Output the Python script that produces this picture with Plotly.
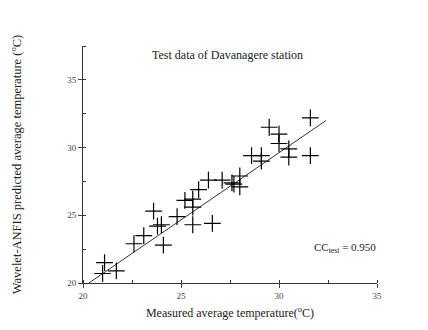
import plotly.graph_objects as go

measured = [21.0, 21.1, 21.7, 22.6, 23.1, 23.6, 23.8, 24.0, 24.1, 24.8, 25.2, 25.6, 25.6, 25.6,
            25.9, 26.4, 26.6, 27.1, 27.6, 27.7, 28.0, 28.0, 28.6, 29.1, 29.1, 29.5, 30.0, 30.0,
            30.5, 30.5, 31.6, 31.6]
predicted = [20.7, 21.5, 20.9, 22.9, 23.5, 25.3, 24.2, 24.3, 22.8, 24.9, 26.1, 26.2, 25.6, 24.3,
             26.9, 27.6, 24.4, 27.6, 27.4, 27.3, 27.1, 27.9, 29.4, 29.4, 29.0, 31.5, 31.0, 30.3,
             29.9, 29.3, 29.4, 32.2]
fit_x = [20.3, 32.4]
fit_y = [20.0, 32.0]
tick_vals = [20, 25, 30, 35]

font = "Liberation Serif, Times New Roman, serif"

fig = go.Figure()
fig.add_trace(go.Scatter(x=fit_x, y=fit_y, mode="lines",
                         line=dict(color="#333333", width=1), showlegend=False))
fig.add_trace(go.Scatter(x=measured, y=predicted, mode="markers",
                         marker=dict(symbol="cross-thin", size=12,
                                     line=dict(color="black", width=1.2)),
                         showlegend=False))

fig.update_layout(
    width=428, height=330,
    margin=dict(l=75, r=59, t=38, b=55),
    paper_bgcolor="white", plot_bgcolor="white",
    font=dict(family=font, color="#222222"),
    annotations=[
        dict(text="Test data of Davanagere station", x=0.49, y=0.962, xref="paper", yref="paper",
             xanchor="center", yanchor="middle",
             showarrow=False, font=dict(size=12, family=font, color="#222222")),
        dict(text="CC<sub>test</sub> = 0.950", x=31.7, y=22.6, xref="x", yref="y",
             xanchor="left", yanchor="middle", showarrow=False,
             font=dict(size=11, family=font, color="#222222")),
    ],
)
fig.update_xaxes(range=[20, 35], tickvals=tick_vals, ticks="outside", ticklen=4,
                 showline=True, linecolor="#333333", linewidth=1, showgrid=False, zeroline=False,
                 automargin=False,
                 tickfont=dict(size=9, family=font, color="#444444"),
                 minor=dict(dtick=2.5, ticks="inside", ticklen=3, tickcolor="#333333"),
                 title=dict(text="Measured average temperature(<sup>o</sup>C)",
                            font=dict(size=12, family=font, color="#222222"), standoff=8))
fig.update_yaxes(range=[20, 37.5], tickvals=tick_vals, ticks="outside", ticklen=4,
                 showline=True, linecolor="#333333", linewidth=1, showgrid=False, zeroline=False,
                 automargin=False,
                 tickfont=dict(size=9, family=font, color="#444444"),
                 minor=dict(dtick=2.5, ticks="inside", ticklen=3, tickcolor="#333333"),
                 title=dict(text="Wavelet-ANFIS predicted average temperature (<sup>o</sup>C)",
                            font=dict(size=12.5, family=font, color="#222222"), standoff=44))

fig.write_html("out.html")
